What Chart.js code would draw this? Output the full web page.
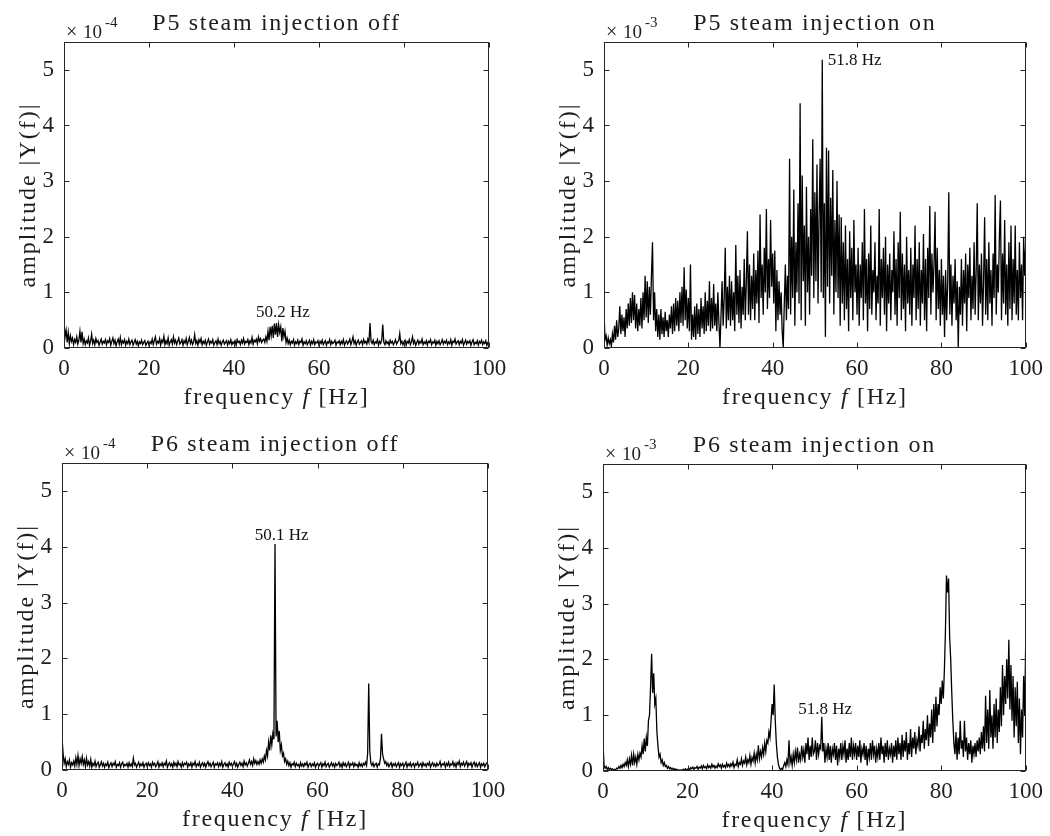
<!DOCTYPE html>
<html>
<head>
<meta charset="utf-8">
<script src="https://cdn.jsdelivr.net/npm/chart.js@4.4.0/dist/chart.umd.min.js"></script>
<style>
  html, body { margin: 0; padding: 0; background: #fff; }
  #wrap { position: relative; width: 1050px; height: 836px; }
  canvas { position: absolute; }
</style>
</head>
<body>
<div id="wrap">
  <canvas id="p5off" width="525" height="418" style="left:0;top:0"></canvas>
  <canvas id="p5on" width="525" height="418" style="left:525px;top:0"></canvas>
  <canvas id="p6off" width="525" height="418" style="left:0;top:418px"></canvas>
  <canvas id="p6on" width="525" height="418" style="left:525px;top:418px"></canvas>
</div>
<script>
// spectra, one value every 0.25 Hz from 0 to 100 Hz
const fStep = 0.25;
const xTicks = [0, 20, 40, 60, 80, 100];
const yTicks = [0, 1, 2, 3, 4, 5];

// P5 off, x1e-4
const p5Off = [
  0.45,0.2,0.32,0.1,0.28,0.08,0.22,0.12,0.18,0.06,0.15,0.1,0.2,0.07,0.14,0.3,0.1,0.29,0.08,0.16,0.06,0.13,0.09,0.18,0.05,0.12,0.25,0.08,0.14,0.06,0.17,0.1,0.13,0.05,0.11,0.16,0.07,0.12,0.09,0.15,
  0.06,0.13,0.1,0.17,0.05,0.12,0.18,0.08,0.14,0.04,0.11,0.16,0.07,0.19,0.06,0.13,0.09,0.15,0.05,0.12,0.08,0.16,0.06,0.11,0.14,0.05,0.1,0.15,0.07,0.12,0.04,0.11,0.08,0.14,0.06,0.1,0.13,0.05,0.09,0.12,
  0.05,0.11,0.08,0.16,0.06,0.13,0.2,0.07,0.12,0.09,0.17,0.05,0.14,0.1,0.21,0.06,0.13,0.08,0.18,0.05,0.11,0.15,0.07,0.2,0.09,0.14,0.06,0.12,0.18,0.07,0.1,0.15,0.05,0.13,0.09,0.17,0.06,0.12,0.19,0.08,
  0.14,0.06,0.11,0.24,0.08,0.13,0.05,0.15,0.1,0.17,0.06,0.12,0.08,0.14,0.05,0.11,0.16,0.07,0.12,0.09,0.15,0.05,0.1,0.13,0.06,0.16,0.08,0.12,0.05,0.11,0.14,0.07,0.1,0.13,0.05,0.12,0.08,0.15,0.06,0.11,
  0.08,0.13,0.05,0.15,0.1,0.12,0.06,0.14,0.09,0.17,0.07,0.12,0.1,0.15,0.06,0.13,0.09,0.19,0.07,0.14,0.11,0.16,0.08,0.2,0.12,0.17,0.1,0.14,0.16,0.1,0.2,0.12,0.3,0.14,0.38,0.22,0.4,0.18,0.44,0.24,
  0.45,0.2,0.42,0.28,0.38,0.12,0.36,0.2,0.3,0.1,0.18,0.08,0.14,0.06,0.12,0.09,0.15,0.05,0.11,0.08,0.14,0.06,0.12,0.1,0.16,0.05,0.11,0.08,0.13,0.06,0.1,0.14,0.05,0.12,0.08,0.15,0.06,0.11,0.09,0.13,
  0.05,0.12,0.08,0.14,0.06,0.1,0.13,0.05,0.11,0.09,0.15,0.06,0.12,0.08,0.1,0.14,0.05,0.11,0.09,0.13,0.06,0.12,0.08,0.15,0.05,0.1,0.13,0.07,0.11,0.16,0.06,0.12,0.2,0.08,0.13,0.05,0.11,0.14,0.07,0.1,
  0.13,0.06,0.15,0.09,0.12,0.07,0.16,0.1,0.45,0.12,0.08,0.14,0.06,0.11,0.09,0.15,0.05,0.12,0.08,0.14,0.42,0.1,0.06,0.13,0.08,0.11,0.05,0.14,0.09,0.12,0.06,0.1,0.15,0.07,0.11,0.13,0.26,0.08,0.12,0.06,
  0.11,0.14,0.05,0.12,0.09,0.15,0.06,0.11,0.2,0.08,0.13,0.05,0.1,0.14,0.07,0.12,0.09,0.16,0.06,0.11,0.08,0.13,0.05,0.12,0.1,0.15,0.06,0.11,0.09,0.14,0.05,0.12,0.08,0.13,0.06,0.1,0.15,0.07,0.12,0.09,
  0.14,0.06,0.11,0.08,0.15,0.05,0.12,0.1,0.16,0.07,0.11,0.13,0.06,0.12,0.09,0.15,0.05,0.1,0.14,0.07,0.12,0.09,0.13,0.05,0.11,0.15,0.06,0.1,0.08,0.13,0.05,0.12,0.09,0.14,0.06,0.11,0.08,0.13,0.05,0.1,0.12
];

// P5 on, x1e-3
const p5On = [
  0.65,0.15,0.22,0.05,0.18,0.08,0.15,0.03,0.25,0.1,0.4,0.15,0.5,0.2,0.35,0.75,0.25,0.6,0.3,0.55,0.2,0.7,0.35,0.8,0.4,0.9,0.45,1.0,0.5,0.95,0.35,0.8,0.3,0.7,0.4,0.9,0.35,1.0,0.5,1.3,
  0.55,1.2,0.45,1.1,0.6,1.3,1.9,0.5,1.0,0.3,0.7,0.2,0.6,0.15,0.7,0.25,0.55,0.2,0.65,0.3,0.5,0.2,0.6,0.35,0.75,0.25,0.8,0.3,0.9,0.4,0.85,0.3,1.0,0.45,1.1,0.4,1.45,0.5,1.05,0.35,
  0.9,0.3,1.5,0.15,0.6,0.2,0.75,0.15,0.8,0.25,0.7,0.2,0.9,0.35,0.75,0.25,1.0,0.3,0.85,0.4,1.2,0.3,0.9,0.35,1.15,0.4,0.8,0.3,1.0,0.45,0.0,0.6,1.2,0.4,0.9,1.8,0.35,1.1,0.5,1.3,
  0.4,1.2,0.5,1.0,0.3,1.85,0.6,1.3,0.45,1.4,0.35,1.1,0.6,1.6,0.5,1.2,2.1,0.6,1.5,0.5,1.3,0.7,1.7,0.5,1.4,0.8,1.75,0.45,2.4,0.9,1.5,0.6,1.8,1.0,2.5,0.7,1.6,0.9,2.3,1.1,
  1.7,0.8,1.75,0.3,1.4,0.5,1.2,0.6,1.0,0.3,0.0,0.8,1.5,0.5,1.3,0.7,3.4,0.6,2.0,0.9,2.85,0.4,1.9,1.0,2.6,0.8,4.4,0.5,3.1,1.2,2.2,0.4,2.9,1.0,2.0,0.6,2.5,1.3,3.75,0.9,
  2.8,1.2,3.3,0.8,2.4,3.4,1.0,5.18,0.9,2.6,0.2,3.6,1.1,3.55,0.8,2.7,1.3,3.2,0.6,2.3,1.0,3.0,0.9,2.4,0.4,2.35,0.8,1.9,0.5,2.2,0.7,1.6,0.3,2.1,0.9,1.8,0.5,2.3,1.0,1.5,
  0.6,1.8,0.4,1.5,0.9,1.9,0.5,2.5,0.8,1.6,0.3,1.7,0.7,2.2,0.6,1.4,1.0,1.9,0.5,1.3,0.8,2.5,0.4,1.6,0.9,1.8,0.6,2.0,0.3,1.5,0.8,1.7,0.5,1.4,1.0,2.1,0.6,1.6,0.4,1.9,
  0.9,2.45,0.5,1.7,0.7,1.5,0.3,2.0,0.8,1.4,0.6,1.8,0.4,1.5,0.9,2.2,0.5,1.6,0.7,1.9,0.4,1.4,0.8,2.05,0.5,1.6,0.3,1.8,0.9,2.55,0.6,1.7,1.0,1.5,2.45,0.5,1.8,0.7,1.4,0.4,
  1.6,0.6,1.3,0.2,1.4,0.5,1.2,2.8,0.6,1.5,0.4,1.3,0.8,1.6,0.5,1.2,0.0,1.1,0.6,1.6,0.4,1.4,0.8,1.7,0.3,1.5,0.9,1.8,0.5,1.3,0.7,1.9,0.6,1.4,2.6,0.5,1.5,0.8,1.7,0.4,
  1.2,2.35,0.6,1.6,0.5,1.9,0.8,1.4,0.4,1.7,0.9,2.75,0.6,1.5,1.0,2.0,2.65,0.5,1.7,0.8,2.3,0.6,1.5,0.4,1.9,0.7,2.2,0.5,1.6,0.8,2.2,0.6,1.4,0.5,1.9,0.9,1.5,0.5,2.0,1.3,1.9
];

// P6 off, x1e-4
const p6Off = [
  0.6,0.3,0.12,0.2,0.06,0.15,0.1,0.18,0.05,0.13,0.09,0.16,0.07,0.22,0.1,0.26,0.08,0.2,0.12,0.24,0.1,0.18,0.06,0.21,0.09,0.15,0.07,0.19,0.05,0.12,0.08,0.16,0.06,0.11,0.14,0.05,0.1,0.15,0.07,0.12,
  0.05,0.11,0.08,0.14,0.04,0.1,0.13,0.06,0.12,0.09,0.15,0.05,0.1,0.08,0.13,0.05,0.11,0.14,0.06,0.1,0.08,0.12,0.05,0.13,0.07,0.11,0.06,0.21,0.09,0.12,0.05,0.1,0.14,0.06,0.11,0.08,0.13,0.05,0.1,0.12,
  0.06,0.13,0.08,0.11,0.05,0.14,0.09,0.12,0.06,0.1,0.15,0.05,0.11,0.08,0.13,0.06,0.12,0.09,0.16,0.05,0.1,0.13,0.07,0.11,0.05,0.14,0.08,0.12,0.06,0.15,0.09,0.11,0.05,0.13,0.07,0.12,0.1,0.14,0.05,0.11,
  0.08,0.13,0.05,0.12,0.09,0.15,0.06,0.11,0.08,0.14,0.05,0.1,0.13,0.07,0.12,0.05,0.11,0.15,0.08,0.12,0.06,0.1,0.14,0.05,0.11,0.09,0.13,0.06,0.12,0.08,0.15,0.05,0.1,0.13,0.07,0.11,0.05,0.14,0.09,0.12,
  0.06,0.11,0.15,0.07,0.12,0.05,0.1,0.14,0.08,0.12,0.06,0.16,0.09,0.13,0.07,0.12,0.18,0.1,0.15,0.08,0.2,0.12,0.17,0.1,0.15,0.1,0.18,0.12,0.2,0.14,0.25,0.18,0.35,0.25,0.5,0.35,0.62,0.45,0.65,0.55,
  4.05,0.6,0.88,0.5,0.7,0.35,0.45,0.25,0.3,0.15,0.2,0.1,0.16,0.08,0.13,0.05,0.11,0.09,0.14,0.06,0.12,0.08,0.1,0.05,0.13,0.07,0.11,0.06,0.12,0.09,0.14,0.05,0.1,0.12,0.06,0.11,0.08,0.13,0.05,0.1,
  0.12,0.06,0.1,0.13,0.05,0.11,0.08,0.14,0.06,0.1,0.12,0.05,0.09,0.13,0.07,0.11,0.05,0.12,0.08,0.1,0.14,0.06,0.11,0.05,0.13,0.08,0.12,0.06,0.1,0.14,0.05,0.11,0.09,0.13,0.06,0.12,0.08,0.1,0.05,0.13,
  0.07,0.11,0.06,0.12,0.09,0.14,0.08,0.3,1.55,0.35,0.12,0.08,0.13,0.06,0.1,0.12,0.05,0.11,0.09,0.2,0.65,0.28,0.2,0.12,0.15,0.08,0.12,0.06,0.1,0.13,0.05,0.11,0.08,0.12,0.06,0.1,0.13,0.05,0.11,0.08,
  0.12,0.06,0.1,0.14,0.05,0.11,0.08,0.13,0.06,0.1,0.12,0.05,0.11,0.09,0.14,0.06,0.1,0.12,0.05,0.13,0.08,0.11,0.06,0.12,0.09,0.14,0.05,0.1,0.13,0.07,0.11,0.06,0.12,0.08,0.1,0.15,0.06,0.11,0.09,0.13,
  0.05,0.12,0.08,0.14,0.06,0.11,0.09,0.15,0.07,0.12,0.05,0.13,0.1,0.16,0.06,0.12,0.09,0.14,0.07,0.11,0.15,0.06,0.12,0.09,0.13,0.05,0.11,0.14,0.07,0.12,0.06,0.1,0.13,0.05,0.11,0.08,0.12,0.06,0.1,0.13,0.11
];

// P6 on, x1e-3
const p6On = [
  0.52,0.1,0.05,0.08,0.03,0.06,0.02,0.05,0.03,0.04,0.01,0.03,0.02,0.05,0.04,0.08,0.05,0.1,0.06,0.12,0.08,0.15,0.1,0.2,0.08,0.22,0.12,0.28,0.1,0.3,0.15,0.25,0.12,0.3,0.2,0.32,0.25,0.45,0.3,0.58,
  0.35,0.6,0.45,0.9,1.0,1.5,2.1,1.4,1.75,1.2,1.3,0.7,0.45,0.25,0.3,0.15,0.2,0.1,0.15,0.08,0.1,0.05,0.08,0.04,0.06,0.03,0.05,0.02,0.04,0.02,0.03,0.01,0.02,0.01,0.02,0.01,0.03,0.02,0.04,0.02,
  0.03,0.05,0.02,0.06,0.04,0.07,0.03,0.06,0.05,0.08,0.03,0.07,0.05,0.09,0.04,0.1,0.06,0.08,0.04,0.11,0.06,0.09,0.05,0.12,0.07,0.1,0.05,0.09,0.06,0.13,0.08,0.11,0.05,0.12,0.07,0.1,0.06,0.14,0.08,0.12,
  0.07,0.13,0.09,0.16,0.06,0.12,0.1,0.2,0.08,0.15,0.12,0.22,0.1,0.18,0.14,0.25,0.11,0.2,0.15,0.28,0.12,0.24,0.18,0.32,0.15,0.3,0.2,0.46,0.22,0.35,0.25,0.42,0.3,0.5,0.35,0.55,0.5,0.7,0.6,0.9,
  1.2,1.0,1.55,0.9,0.5,0.25,0.12,0.05,0.02,0.05,0.03,0.1,0.15,0.08,0.2,0.12,0.55,0.15,0.25,0.1,0.3,0.15,0.35,0.2,0.42,0.15,0.3,0.2,0.45,0.25,0.38,0.15,0.5,0.3,0.6,0.2,0.45,0.25,0.6,0.3,
  0.35,0.55,0.2,0.5,0.3,0.45,0.4,0.97,0.35,0.5,0.15,0.4,0.25,0.5,0.2,0.45,0.15,0.4,0.3,0.5,0.2,0.45,0.1,0.4,0.25,0.5,0.2,0.45,0.3,0.55,0.15,0.4,0.2,0.5,0.25,0.6,0.2,0.45,0.3,0.5,
  0.2,0.45,0.25,0.55,0.15,0.4,0.3,0.5,0.2,0.45,0.1,0.4,0.25,0.5,0.2,0.55,0.3,0.45,0.15,0.4,0.25,0.5,0.2,0.6,0.3,0.45,0.15,0.5,0.25,0.55,0.2,0.4,0.3,0.5,0.15,0.45,0.25,0.55,0.2,0.6,
  0.3,0.5,0.2,0.65,0.25,0.55,0.35,0.7,0.2,0.5,0.3,0.75,0.25,0.6,0.4,0.7,0.3,0.55,0.45,0.8,0.35,0.65,0.5,0.9,0.4,0.75,0.55,1.0,0.45,0.85,0.6,1.1,0.5,1.2,0.7,1.33,0.8,1.2,1.0,1.5,
  1.2,1.62,1.3,1.8,2.5,3.5,3.2,3.45,2.4,2.0,1.4,0.9,0.5,0.3,0.7,0.2,0.6,0.3,0.9,0.4,0.55,0.25,0.9,0.35,0.6,0.2,0.5,0.3,0.55,0.15,0.45,0.3,0.5,0.25,0.55,0.35,0.6,0.3,0.7,0.4,
  0.8,0.35,1.35,0.5,1.1,0.4,1.45,0.6,1.0,0.4,1.2,0.6,1.3,0.5,1.1,0.7,1.5,0.8,1.9,1.0,1.7,1.2,2.0,1.3,2.35,1.1,1.9,0.9,1.7,0.6,1.5,0.8,1.6,0.5,1.3,0.3,1.1,0.6,1.7,1.0,2.4
];

const ink = '#262626';
const serif = '"Liberation Serif", "Times New Roman", serif';

// matlab style box, inward ticks, titles and the peak label
const panelText = {
  id: 'panelText',
  afterDraw(chart, args, o) {
    const { ctx, chartArea: a, scales: { x, y } } = chart;
    ctx.save();
    ctx.strokeStyle = ink;
    ctx.lineWidth = 1;
    const L = Math.round(a.left) + 0.5, R = Math.round(a.right) - 0.5;
    const T = Math.round(a.top) + 0.5, B = Math.round(a.bottom) - 0.5;
    ctx.strokeRect(L, T, R - L, B - T);
    ctx.beginPath();
    xTicks.forEach(v => {
      const px = Math.round(x.getPixelForValue(v)) + 0.5;
      ctx.moveTo(px, B); ctx.lineTo(px, B - 5);
      ctx.moveTo(px, T); ctx.lineTo(px, T + 5);
    });
    yTicks.forEach(v => {
      const py = Math.round(y.getPixelForValue(v)) + 0.5;
      ctx.moveTo(L, py); ctx.lineTo(L + 5, py);
      ctx.moveTo(R, py); ctx.lineTo(R - 5, py);
    });
    ctx.stroke();

    ctx.fillStyle = '#1e1e1e';
    const cx = (a.left + a.right) / 2;

    // title
    ctx.font = '24px ' + serif;
    ctx.letterSpacing = '1.7px';
    ctx.textAlign = 'center';
    ctx.textBaseline = 'alphabetic';
    ctx.fillText(o.title, cx, a.top - 12);

    // x label with italic f
    const parts = [['frequency ', ''], ['f', 'italic '], [' [Hz]', '']];
    let total = 0;
    parts.forEach(p => { ctx.font = p[1] + '24px ' + serif; total += ctx.measureText(p[0]).width; });
    let px = cx - total / 2;
    ctx.textAlign = 'left';
    parts.forEach(p => {
      ctx.font = p[1] + '24px ' + serif;
      ctx.fillText(p[0], px, a.bottom + 56);
      px += ctx.measureText(p[0]).width;
    });

    // y label
    ctx.save();
    ctx.translate(a.left - 35, (a.top + a.bottom) / 2);
    ctx.rotate(-Math.PI / 2);
    ctx.font = '24px ' + serif;
    ctx.letterSpacing = '2px';
    ctx.textAlign = 'center';
    ctx.textBaseline = 'middle';
    ctx.fillText('amplitude |Y(f)|', 0, 0);
    ctx.restore();

    // exponent: x10 with a raised power
    ctx.letterSpacing = '0px';
    ctx.textAlign = 'left';
    ctx.font = '20px ' + serif;
    ctx.fillText('\u00d7', a.left + 2, a.top - 4);
    ctx.font = '19px ' + serif;
    ctx.fillText('10', a.left + 19, a.top - 4);
    ctx.font = '15px ' + serif;
    ctx.fillText(o.exp, a.left + 41, a.top - 15);

    // peak label
    ctx.fillStyle = '#111';
    ctx.font = '17px ' + serif;
    ctx.textAlign = o.note.align;
    ctx.fillText(o.note.text, x.getPixelForValue(o.note.f), y.getPixelForValue(o.note.amp));
    ctx.restore();
  }
};

function drawPanel(id, values, box, title, exp, note) {
  const tickFont = { family: serif, size: 23 };
  new Chart(document.getElementById(id), {
    type: 'line',
    data: {
      datasets: [{
        data: values.map((v, i) => ({ x: i * fStep, y: v })),
        borderColor: '#000',
        borderWidth: 1.3,
        pointRadius: 0,
        tension: 0
      }]
    },
    options: {
      responsive: false,
      animation: false,
      events: [],
      layout: { padding: { left: 0, top: box.top, right: box.right, bottom: 0 } },
      plugins: {
        legend: { display: false },
        tooltip: { enabled: false },
        panelText: { title: title, exp: exp, note: note }
      },
      scales: {
        x: {
          type: 'linear', min: 0, max: 100,
          afterBuildTicks: s => { s.ticks = xTicks.map(v => ({ value: v })); },
          afterFit: s => { s.height = box.xh; },
          grid: { display: false, drawTicks: false },
          border: { display: false },
          ticks: { font: tickFont, color: '#1e1e1e', padding: 7, maxRotation: 0, autoSkip: false }
        },
        y: {
          type: 'linear', min: 0, max: 5.5,
          afterBuildTicks: s => { s.ticks = yTicks.map(v => ({ value: v })); },
          afterFit: s => { s.width = box.yw; },
          grid: { display: false, drawTicks: false },
          border: { display: false },
          ticks: { font: tickFont, color: '#1e1e1e', padding: 10 }
        }
      }
    },
    plugins: [panelText]
  });
}

drawPanel('p5off', p5Off, { top: 42, right: 36, yw: 64, xh: 70 },
  'P5 steam injection off', '-4', { text: '50.2 Hz', f: 51.5, amp: 0.55, align: 'center' });
drawPanel('p5on', p5On, { top: 42, right: 20, yw: 79, xh: 70 },
  'P5 steam injection on', '-3', { text: '51.8 Hz', f: 53.05, amp: 5.09, align: 'left' });
drawPanel('p6off', p6Off, { top: 45, right: 37, yw: 62, xh: 66 },
  'P6 steam injection off', '-4', { text: '50.1 Hz', f: 51.57, amp: 4.12, align: 'center' });
drawPanel('p6on', p6On, { top: 46, right: 21, yw: 78, xh: 65 },
  'P6 steam injection on', '-3', { text: '51.8 Hz', f: 52.55, amp: 1.03, align: 'center' });
</script>
</body>
</html>
